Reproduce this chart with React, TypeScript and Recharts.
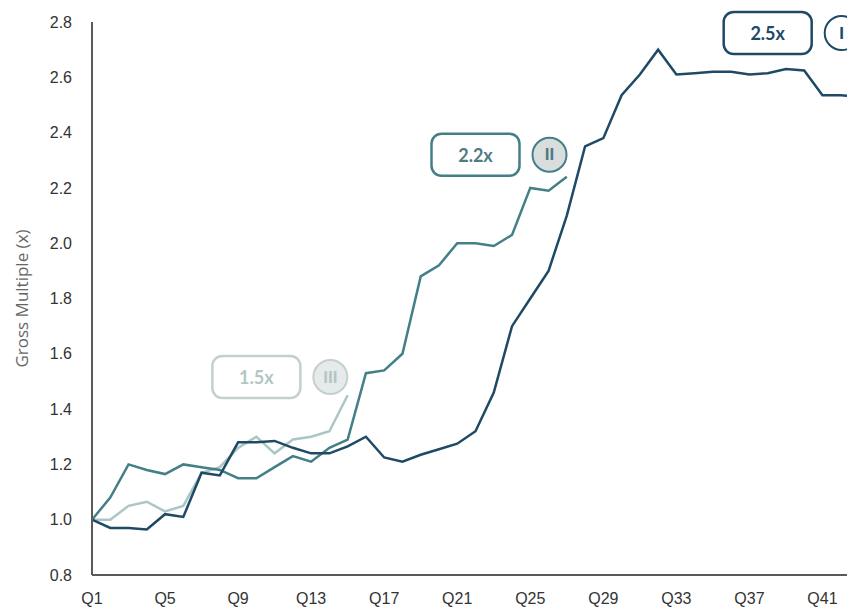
import React from "react";
import {
  LineChart,
  Line,
  XAxis,
  YAxis,
  ReferenceDot,
} from "recharts";

const quarters = Array.from({ length: 43 }, (_, i) => `Q${i + 1}`);

// Fund I (dark), Fund II (teal), Fund III (light)
const fundI = [
  1.0, 0.97, 0.97, 0.965, 1.02, 1.01, 1.17, 1.16, 1.28, 1.28, 1.285, 1.26,
  1.24, 1.24, 1.265, 1.3, 1.225, 1.21, 1.235, 1.255, 1.275, 1.32, 1.46, 1.7,
  1.8, 1.9, 2.1, 2.35, 2.38, 2.535, 2.61, 2.7, 2.61, 2.615, 2.62, 2.62, 2.61,
  2.615, 2.63, 2.625, 2.535, 2.535, 2.53,
];
const fundII = [
  1.0, 1.08, 1.2, 1.18, 1.165, 1.2, 1.19, 1.18, 1.15, 1.15, 1.19, 1.23, 1.21,
  1.26, 1.29, 1.53, 1.54, 1.6, 1.88, 1.92, 2.0, 2.0, 1.99, 2.03, 2.2, 2.19,
  2.24,
];
const fundIII = [
  1.0, 1.0, 1.05, 1.065, 1.03, 1.05, 1.17, 1.19, 1.26, 1.3, 1.24, 1.29, 1.3,
  1.32, 1.45,
];

const yTicks = [0.8, 1.0, 1.2, 1.4, 1.6, 1.8, 2.0, 2.2, 2.4, 2.6, 2.8];

const data = quarters.map((q, i) => ({
  q,
  I: fundI[i] ?? null,
  II: fundII[i] ?? null,
  III: fundIII[i] ?? null,
}));

const DARK = "#1f4a66";
const TEAL = "#437f87";
const LIGHT = "#abc6c4";

// box with the multiple + circle with the fund number
function Badge(props: any) {
  const { cx, cy, text, roman, color, textColor, fill } = props;
  const w = 88;
  const h = 42;
  return (
    <g>
      <rect
        x={cx - w / 2}
        y={cy - h / 2}
        width={w}
        height={h}
        rx={10}
        fill="#fff"
        stroke={color}
        strokeWidth={2.5}
      />
      <text
        x={cx}
        y={cy}
        textAnchor="middle"
        dominantBaseline="central"
        fontFamily="Lato, 'Open Sans', sans-serif"
        fontWeight={700}
        fontSize={18}
        fill={textColor}
      >
        {text}
      </text>
      <circle cx={cx + 74} cy={cy} r={17} fill={fill} stroke={color} strokeWidth={2} />
      <text
        x={cx + 74}
        y={cy}
        textAnchor="middle"
        dominantBaseline="central"
        fontFamily="'Liberation Sans', sans-serif"
        fontWeight={700}
        fontSize={17}
        fill={textColor}
      >
        {roman}
      </text>
    </g>
  );
}

export default function App() {
  return (
    <div
      style={{
        position: "absolute",
        left: 0,
        top: 0,
        width: 847,
        height: 609,
        overflow: "hidden",
        background: "#fff",
      }}
    >
      <LineChart
        width={869}
        height={609}
        data={data}
        margin={{ top: 22, right: 10, bottom: 0, left: 0 }}
      >
        <XAxis
          dataKey="q"
          interval={3}
          height={34}
          tickLine={false}
          tickSize={0}
          tickMargin={18}
          stroke="#5a5a5a"
          strokeWidth={2}
          tick={{ fontSize: 16, fill: "#333", fontFamily: "'Liberation Sans', Arial, sans-serif" }}
        />
        <YAxis
          domain={[0.8, 2.8]}
          ticks={yTicks}
          width={92}
          tickLine={false}
          tickSize={0}
          tickMargin={20}
          stroke="#5a5a5a"
          strokeWidth={2}
          tickFormatter={(v: number) => v.toFixed(1)}
          tick={{ fontSize: 16, fill: "#333", fontFamily: "'Liberation Sans', Arial, sans-serif" }}
          label={{
            value: "Gross Multiple (x)",
            angle: -90,
            position: "insideLeft",
            offset: 22,
            style: {
              textAnchor: "middle",
              fontSize: 17,
              fill: "#666",
              fontFamily: "'Open Sans', sans-serif",
            },
          }}
        />
        <Line
          dataKey="III"
          stroke={LIGHT}
          strokeWidth={2.5}
          dot={false}
          isAnimationActive={false}
        />
        <Line
          dataKey="II"
          stroke={TEAL}
          strokeWidth={2.5}
          dot={false}
          isAnimationActive={false}
        />
        <Line
          dataKey="I"
          stroke={DARK}
          strokeWidth={2.5}
          dot={false}
          isAnimationActive={false}
        />
        <ReferenceDot
          x="Q10"
          y={1.516}
          shape={(p: any) => (
            <Badge {...p} text="1.5x" roman="III" color="#c3d0cf" textColor="#b3c6c5" fill="#e6eaea" />
          )}
        />
        <ReferenceDot
          x="Q22"
          y={2.32}
          shape={(p: any) => (
            <Badge {...p} text="2.2x" roman="II" color={TEAL} textColor="#4f7c82" fill="#d9dddd" />
          )}
        />
        <ReferenceDot
          x="Q38"
          y={2.76}
          shape={(p: any) => (
            <Badge {...p} text="2.5x" roman="I" color={DARK} textColor={DARK} fill="#fff" />
          )}
        />
      </LineChart>
    </div>
  );
}
